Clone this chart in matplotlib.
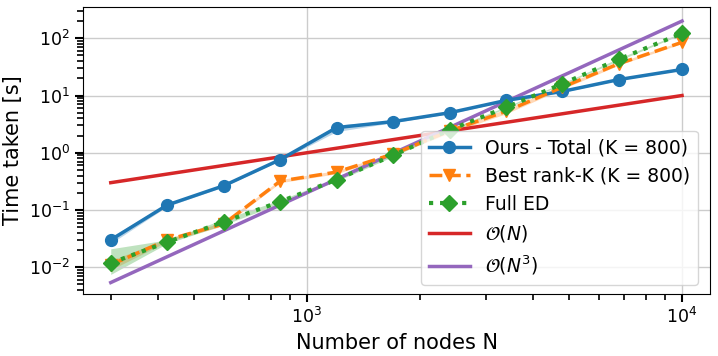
import numpy as np
import matplotlib
matplotlib.use("Agg")
import matplotlib.pyplot as plt
from matplotlib.ticker import NullFormatter

N = [300, 424, 600, 849, 1200, 1697, 2400, 3394, 4800, 6788, 10000]

ours = [0.030, 0.122, 0.265, 0.76, 2.75, 3.5, 5.0, 8.2, 11.8, 19.0, 28.5]
ours_lo = [0.026, 0.115, 0.255, 0.73, 2.35, 3.35, 4.8, 7.9, 11.4, 18.5, 27.8]
ours_hi = [0.034, 0.130, 0.275, 0.79, 3.05, 3.65, 5.2, 8.5, 12.2, 19.5, 29.2]

rank = [0.011, 0.030, 0.057, 0.32, 0.46, 0.95, 2.4, 5.3, 14.0, 36.0, 85.0]
rank_lo = [0.009, 0.028, 0.053, 0.30, 0.43, 0.90, 2.2, 4.8, 13.0, 34.0, 81.0]
rank_hi = [0.013, 0.032, 0.061, 0.34, 0.49, 1.00, 2.6, 5.8, 15.0, 38.0, 89.0]

full = [0.0118, 0.0275, 0.062, 0.140, 0.34, 0.90, 2.5, 6.2, 16.0, 43.0, 122.0]
full_lo = [0.0075, 0.026, 0.055, 0.130, 0.32, 0.86, 2.4, 6.0, 15.5, 41.0, 118.0]
full_hi = [0.021, 0.030, 0.069, 0.150, 0.36, 0.94, 2.6, 6.4, 16.5, 45.0, 126.0]

c_lin = 1e-3
c_cub = 2e-10

labels = ["Ours - Total (K = 800)", "Best rank-K (K = 800)", "Full ED",
          r"$\mathcal{O}(N)$", r"$\mathcal{O}(N^3)$"]

Na = np.array(N, dtype=float)

fig = plt.figure(figsize=(7.18, 3.56), dpi=100)
ax = fig.add_axes([0.1156, 0.174, 0.8734, 0.806])

ax.plot(N, ours, '-o', color='#1f77b4', lw=2.5, ms=8.5, label=labels[0], zorder=3)
ax.fill_between(N, ours_lo, ours_hi, color='#1f77b4', alpha=0.3, lw=0)
ax.plot(N, rank, '--v', color='#ff7f0e', lw=2.5, ms=8.5, label=labels[1], zorder=3)
ax.fill_between(N, rank_lo, rank_hi, color='#ff7f0e', alpha=0.3, lw=0)
ax.plot(N, full, ':D', color='#2ca02c', lw=3, ms=8.5, label=labels[2], zorder=3)
ax.fill_between(N, full_lo, full_hi, color='#2ca02c', alpha=0.3, lw=0)
ax.plot(N, c_lin * Na, '-', color='#d62728', lw=2.5, label=labels[3], zorder=2)
ax.plot(N, c_cub * Na**3, '-', color='#9467bd', lw=2.5, label=labels[4], zorder=2)

ax.set_xscale('log')
ax.set_yscale('log')
ax.set_xlim(253, 11880)
ax.set_ylim(0.0034, 350)
ax.xaxis.set_minor_formatter(NullFormatter())
ax.grid(True, which='major', color='#cccccc', lw=1)
ax.tick_params(axis='both', which='major', labelsize=12.5, length=6, width=1.5)
ax.tick_params(axis='both', which='minor', length=4, width=1.2)
ax.set_xlabel("Number of nodes N", fontsize=15)
ax.set_ylabel("Time taken [s]", fontsize=15)
ax.legend(loc='lower right', fontsize=13.5, handlelength=2.2, bbox_to_anchor=(0.995, 0.0))

fig.savefig("out.png", dpi=100)
